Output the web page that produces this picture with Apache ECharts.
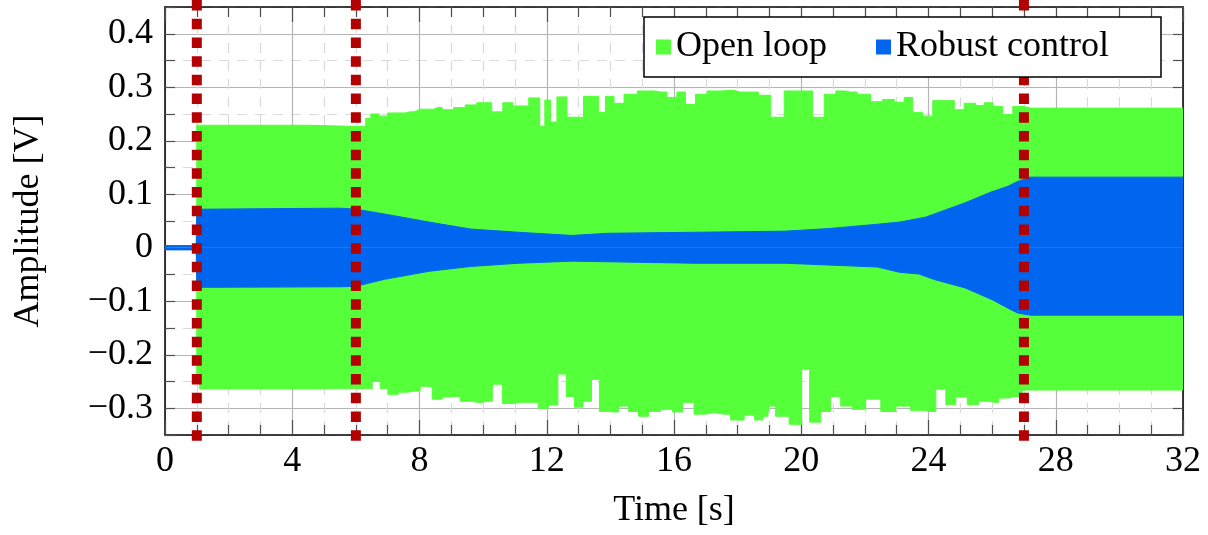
<!DOCTYPE html>
<html><head><meta charset="utf-8">
<script src="https://cdn.jsdelivr.net/npm/echarts@6/dist/echarts.min.js"></script>
<style>html,body{margin:0;padding:0;background:#fff}#c{width:1208px;height:535px}</style>
</head><body><div id="c"></div>
<script>
// ---- data ----
const seriesNames = ['Open loop', 'Robust control'];
const dividers = [1, 6, 27];            // time of the red dashed markers [s]

// Open loop: upper envelope
const openHiT = [0.98,1.3,3.3,5.8,6.23,6.39,6.55,6.92,7.08,7.39,7.71,7.93,8.0,8.34,8.56,8.87,9.28,9.6,10.0,10.54,10.7,11.17,11.7,11.86,12.02,12.21,12.43,12.84,13.47,13.78,13.91,14.32,14.54,15.17,15.58,15.98,16.2,16.52,16.83,17.24,17.68,18.09,18.5,18.82,19.26,19.67,20.2,20.52,20.93,21.24,21.55,21.96,22.4,22.72,23.13,23.35,23.66,23.98,24.29,24.7,24.92,25.33,25.64,25.87,26.18,26.49,26.81,27.2,32];
const openHi = [0.229,0.229,0.229,0.227,0.227,0.242,0.250,0.246,0.252,0.252,0.254,0.256,0.259,0.259,0.262,0.258,0.262,0.267,0.271,0.254,0.271,0.265,0.280,0.227,0.276,0.235,0.282,0.244,0.283,0.253,0.283,0.270,0.287,0.293,0.291,0.281,0.291,0.268,0.287,0.293,0.294,0.291,0.291,0.285,0.244,0.293,0.293,0.244,0.287,0.293,0.291,0.287,0.273,0.277,0.272,0.281,0.253,0.246,0.275,0.275,0.258,0.270,0.266,0.271,0.264,0.249,0.264,0.261,0.261];
// Open loop: lower envelope
const openLoT = [0.98,1.2,3.5,5.9,6.36,6.67,6.86,7.17,7.49,7.8,8.24,8.56,8.87,9.06,9.5,9.82,10.13,10.45,10.76,11.17,11.58,11.89,12.21,12.49,12.74,13.0,13.28,13.53,13.78,14.1,14.41,14.73,15.04,15.36,15.8,16.11,16.43,16.83,17.15,17.56,18.0,18.41,18.66,18.94,19.04,19.35,19.89,20.14,20.39,20.83,21.02,21.46,21.77,22.28,22.72,23.22,23.66,24.07,24.39,24.7,25.02,25.42,25.74,26.05,26.37,26.68,27.2,32];
const openLo = [-0.245,-0.264,-0.264,-0.263,-0.263,-0.250,-0.263,-0.274,-0.270,-0.268,-0.259,-0.283,-0.279,-0.278,-0.287,-0.289,-0.287,-0.255,-0.291,-0.289,-0.289,-0.300,-0.294,-0.236,-0.278,-0.298,-0.287,-0.246,-0.306,-0.307,-0.296,-0.306,-0.315,-0.306,-0.302,-0.307,-0.289,-0.311,-0.309,-0.311,-0.322,-0.313,-0.322,-0.315,-0.296,-0.315,-0.330,-0.227,-0.326,-0.306,-0.278,-0.296,-0.302,-0.283,-0.306,-0.296,-0.304,-0.306,-0.264,-0.293,-0.279,-0.293,-0.287,-0.289,-0.281,-0.278,-0.266,-0.266];
// Robust control: upper envelope
const robHiT = [0,0.98,1.0,5.5,6.0,6.9,8.3,9.6,11.1,12.8,13.9,16.7,19.5,20.9,22.4,23.1,23.9,25.15,25.96,26.5,26.8,27.2,32];
const robHi = [0.004,0.004,0.072,0.074,0.072,0.063,0.048,0.035,0.029,0.023,0.027,0.029,0.031,0.036,0.044,0.048,0.057,0.084,0.104,0.115,0.124,0.132,0.132];
// Robust control: lower envelope
const robLoT = [0,0.98,1.0,5.5,6.0,6.9,8.3,9.6,11.1,12.8,16.7,19.5,22.4,23.1,23.7,24.16,25.15,26.0,26.5,26.8,27.2,32];
const robLo = [-0.004,-0.004,-0.074,-0.073,-0.072,-0.059,-0.044,-0.035,-0.029,-0.025,-0.029,-0.029,-0.036,-0.046,-0.049,-0.059,-0.075,-0.097,-0.113,-0.122,-0.126,-0.126];

// ---- styling ----
const FONT = '"Liberation Serif", "DejaVu Serif", serif';
const GREEN = '#55ff3a', BLUE = '#0066f0', RED = '#b30000';
const MAJOR = '#b5b5b5', MINOR = '#dadada', TICK = '#505050';

function zip(t, v) { return t.map((x, i) => [x, v[i]]); }
function fmtY(v) {
  const r = Math.round(v * 100);
  if (r % 10 !== 0 || r < -30 || r > 40) return '';
  if (r === 0) return '0';
  const s = (Math.abs(r) / 100).toFixed(1);
  return r < 0 ? '\u2212' + s : s;
}
function band(name, color, data, step) {
  return {
    name, type: 'line', data, step, symbol: 'none', showSymbol: false,
    lineStyle: { width: 1, color }, itemStyle: { color },
    areaStyle: { color, opacity: 1, origin: 0 },
    z: 2, silent: true, animation: false
  };
}

const series = [
  band(seriesNames[0], GREEN, zip(openHiT, openHi), 'middle'),
  band(seriesNames[0], GREEN, zip(openLoT, openLo), 'middle'),
  band(seriesNames[1], BLUE, zip(robHiT, robHi), false),
  band(seriesNames[1], BLUE, zip(robLoT, robLo), false)
];
dividers.forEach(t => series.push({
  type: 'line', data: [[t, 0.463], [t, -0.368]], symbol: 'none',
  lineStyle: { color: RED, width: 10, type: [10.5, 8.2], cap: 'butt' },
  clip: false, z: 3, silent: true, animation: false
}));

const axisLine = { show: true, onZero: false, lineStyle: { color: '#000', width: 1.5 } };
const chart = echarts.init(document.getElementById('c'), null, { renderer: 'canvas' });
chart.setOption({
  animation: false,
  backgroundColor: '#fff',
  grid: { left: 165, top: 7, right: 25, bottom: 100, containLabel: false },
  legend: {
    z: 20,
    data: seriesNames, left: 644, top: 17, orient: 'horizontal',
    icon: 'rect', itemWidth: 15, itemHeight: 15, itemGap: 30,
    padding: [12, 15, 12, 12],
    backgroundColor: '#fff', borderColor: '#000', borderWidth: 1.5, borderRadius: 0,
    formatter: n => n === seriesNames[0] ? '{o|' + n + '}' : '{r|' + n + '}',
    textStyle: {
      fontFamily: FONT, fontSize: 36, color: '#000',
      rich: {
        o: { fontFamily: FONT, fontSize: 36, width: 170, lineHeight: 38, color: '#000' },
        r: { fontFamily: FONT, fontSize: 36, width: 250, lineHeight: 38, color: '#000' }
      }
    }
  },
  xAxis: [{
    type: 'value', position: 'bottom', min: 0, max: 32, interval: 4,
    axisLine, axisTick: { show: true, inside: true, length: 15, lineStyle: { color: TICK, width: 1.2 } },
    minorTick: { show: true, splitNumber: 4, length: 10, lineStyle: { color: TICK, width: 1.2 } },
    axisLabel: { fontFamily: FONT, fontSize: 36, color: '#000', margin: 9 },
    splitLine: { show: true, lineStyle: { color: MAJOR, width: 1.2 } },
    minorSplitLine: { show: true, lineStyle: { color: MINOR, width: 1.2, type: [10, 8] } },
    name: 'Time [s]', nameLocation: 'middle', nameGap: 58,
    nameTextStyle: { fontFamily: FONT, fontSize: 36, color: '#000' }
  }, {
    type: 'value', position: 'top', min: 0, max: 32, interval: 4,
    axisLine, axisTick: { show: true, inside: true, length: 15, lineStyle: { color: TICK, width: 1.2 } },
    minorTick: { show: true, splitNumber: 4, length: 10, lineStyle: { color: TICK, width: 1.2 } },
    axisLabel: { show: false }, splitLine: { show: false }, minorSplitLine: { show: false }
  }],
  yAxis: [{
    type: 'value', position: 'left', min: -0.35, max: 0.45, interval: 0.05,
    axisLine, axisTick: { show: true, inside: true, length: 10, lineStyle: { color: TICK, width: 1.2 } },
    axisLabel: { fontFamily: FONT, fontSize: 36, color: '#000', margin: 12, formatter: fmtY },
    splitLine: { show: true, lineStyle: { color: ['rgba(0,0,0,0)', MAJOR], width: 1.2 } },
    name: 'Amplitude [V]', nameLocation: 'middle', nameGap: 118,
    nameTextStyle: { fontFamily: FONT, fontSize: 36, color: '#000' }
  }, {
    type: 'value', position: 'right', min: -0.35, max: 0.45, interval: 0.05,
    axisLine, axisTick: { show: true, inside: true, length: 10, lineStyle: { color: TICK, width: 1.2 } },
    axisLabel: { show: false },
    splitLine: { show: true, lineStyle: { color: [MINOR, 'rgba(0,0,0,0)'], width: 1.2, type: [10, 8] } }
  }],
  series
});
</script>
</body></html>
